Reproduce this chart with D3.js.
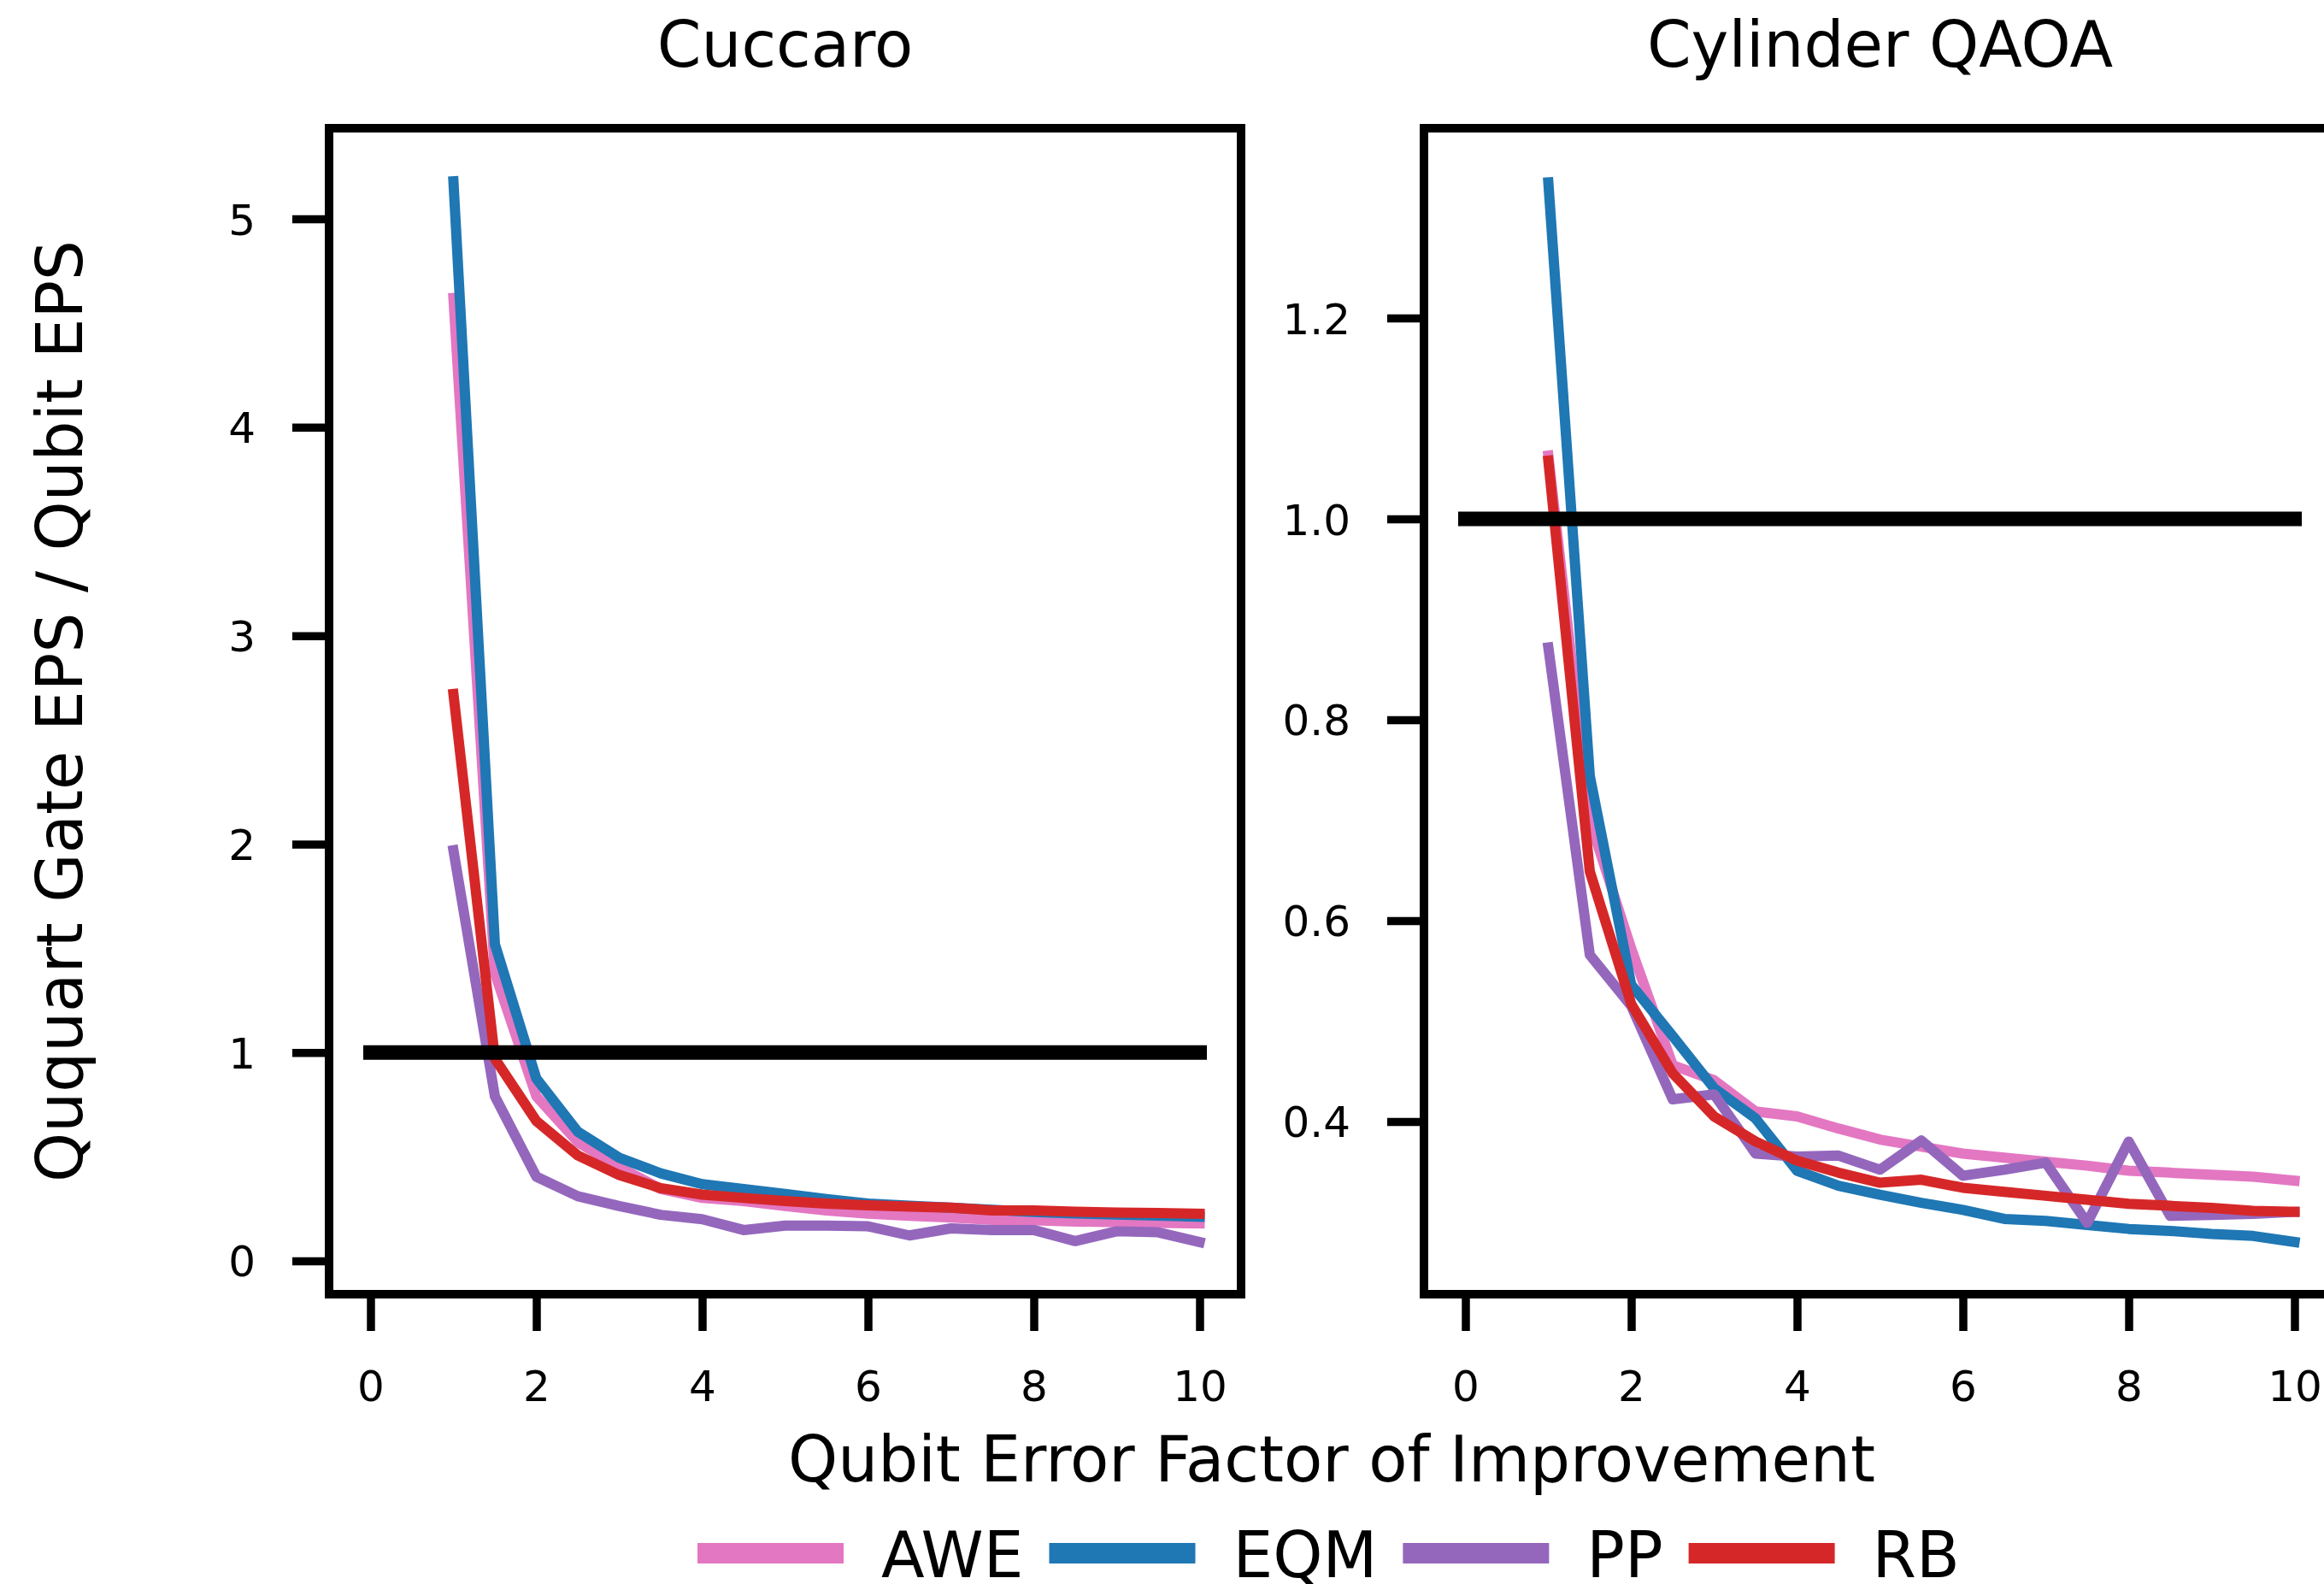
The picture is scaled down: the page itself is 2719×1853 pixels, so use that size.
<!DOCTYPE html>
<html>
<head>
<meta charset="utf-8">
<script src="https://cdn.jsdelivr.net/npm/d3@7"></script>
<style>
  html, body { margin: 0; padding: 0; background: #ffffff; }
  svg { display: block; }
  text { font-family: "DejaVu Sans", sans-serif; fill: #000; }
</style>
</head>
<body>
<script>
// Qubit error improvement factor (shared x for both panels)
const xFactors = [1, 1.5, 2, 2.5, 3, 3.5, 4, 4.5, 5, 5.5, 6, 6.5, 7, 7.5, 8, 8.5, 9, 9.5, 10];

// Methods
const methods = ["AWE", "EQM", "PP", "RB"];
const methodColors = ["#e377c2", "#1f77b4", "#9467bd", "#d62728"];

// Cuccaro: ququart gate EPS / qubit EPS
const cuccaroAWE = [4.62, 1.38, 0.79, 0.57, 0.45, 0.345, 0.302, 0.287, 0.263, 0.242, 0.227, 0.216, 0.208, 0.197, 0.195, 0.189, 0.186, 0.183, 0.18];
const cuccaroEQM = [5.18, 1.52, 0.875, 0.62, 0.495, 0.42, 0.368, 0.345, 0.321, 0.297, 0.275, 0.265, 0.255, 0.245, 0.235, 0.228, 0.222, 0.217, 0.212];
const cuccaroPP  = [1.97, 0.79, 0.404, 0.31, 0.263, 0.221, 0.20, 0.148, 0.169, 0.169, 0.166, 0.122, 0.156, 0.148, 0.148, 0.095, 0.142, 0.137, 0.09];
const cuccaroRB  = [2.72, 0.97, 0.671, 0.506, 0.412, 0.349, 0.318, 0.302, 0.287, 0.275, 0.267, 0.26, 0.255, 0.242, 0.242, 0.236, 0.232, 0.23, 0.226];

// Cylinder QAOA: ququart gate EPS / qubit EPS
const qaoaAWE = [1.063, 0.70, 0.572, 0.456, 0.441, 0.410, 0.405, 0.393, 0.382, 0.375, 0.368, 0.364, 0.360, 0.356, 0.351, 0.349, 0.347, 0.345, 0.341];
const qaoaEQM = [1.335, 0.744, 0.536, 0.485, 0.433, 0.403, 0.351, 0.336, 0.327, 0.319, 0.312, 0.303, 0.301, 0.297, 0.293, 0.291, 0.288, 0.286, 0.280];
const qaoaPP  = [0.872, 0.566, 0.515, 0.422, 0.427, 0.368, 0.365, 0.366, 0.352, 0.381, 0.346, 0.352, 0.359, 0.299, 0.380, 0.306, 0.307, 0.308, 0.310];
const qaoaRB  = [1.058, 0.649, 0.517, 0.448, 0.405, 0.380, 0.361, 0.349, 0.339, 0.342, 0.334, 0.330, 0.326, 0.322, 0.318, 0.316, 0.314, 0.311, 0.310];

// Tick values
const xTicks = [0, 2, 4, 6, 8, 10];
const cuccaroYTicks = [0, 1, 2, 3, 4, 5];
const qaoaYTicks = [0.4, 0.6, 0.8, 1.0, 1.2];

// Break-even reference level
const breakEven = 1;
const breakEvenRange = [0, 10];

const panels = [
  { title: "Cuccaro", series: [cuccaroAWE, cuccaroEQM, cuccaroPP, cuccaroRB],
    yDomain: [-0.16, 5.435], yTicks: cuccaroYTicks, yFmt: d3.format("d"),
    left: 385, right: 1452 },
  { title: "Cylinder QAOA", series: [qaoaAWE, qaoaEQM, qaoaPP, qaoaRB],
    yDomain: [0.228, 1.389], yTicks: qaoaYTicks, yFmt: d3.format(".1f"),
    left: 1666, right: 2733 }
];

const W = 2719, H = 1853;
const plotTop = 150, plotBottom = 1514;
const tickLen = 43, tickW = 9.5, spineW = 10, lineW = 12;
const tickFont = 50, labelFont = 74;

const svg = d3.select("body").append("svg")
  .attr("width", W).attr("height", H)
  .attr("viewBox", `0 0 ${W} ${H}`);
svg.append("rect").attr("width", W).attr("height", H).attr("fill", "#fff");
const defs = svg.append("defs");

panels.forEach((p, pi) => {
  const x = d3.scaleLinear().domain([-0.5, 10.5]).range([p.left, p.right]);
  const y = d3.scaleLinear().domain(p.yDomain).range([plotBottom, plotTop]);
  const g = svg.append("g");

  const clipId = "clip" + pi;
  defs.append("clipPath").attr("id", clipId)
    .append("rect").attr("x", p.left).attr("y", plotTop)
    .attr("width", p.right - p.left).attr("height", plotBottom - plotTop);

  // Data lines
  const line = d3.line().x((d, i) => x(xFactors[i])).y(d => y(d));
  const lines = g.append("g").attr("clip-path", `url(#${clipId})`);
  p.series.forEach((vals, si) => {
    lines.append("path")
      .datum(vals)
      .attr("d", line)
      .attr("fill", "none")
      .attr("stroke", methodColors[si])
      .attr("stroke-width", lineW)
      .attr("stroke-linecap", "square")
      .attr("stroke-linejoin", "round");
  });

  // Break-even line
  lines.append("line")
    .attr("x1", x(breakEvenRange[0])).attr("x2", x(breakEvenRange[1]))
    .attr("y1", y(breakEven)).attr("y2", y(breakEven))
    .attr("stroke", "#000").attr("stroke-width", 17)
    .attr("stroke-linecap", "square");

  // Axes
  const yAxis = d3.axisLeft(y).tickValues(p.yTicks).tickFormat(p.yFmt)
    .tickSize(tickLen).tickPadding(43);
  const yg = g.append("g").attr("transform", `translate(${p.left},0)`).call(yAxis);
  const xAxis = d3.axisBottom(x).tickValues(xTicks).tickFormat(d3.format("d"))
    .tickSize(tickLen).tickPadding(46);
  const xg = g.append("g").attr("transform", `translate(0,${plotBottom})`).call(xAxis);

  [yg, xg].forEach(ax => {
    ax.select(".domain").remove();
    ax.selectAll(".tick line").attr("stroke", "#000").attr("stroke-width", tickW);
    ax.selectAll(".tick text")
      .style("font-family", "DejaVu Sans, sans-serif")
      .style("font-size", tickFont + "px")
      .attr("fill", "#000");
  });
  yg.selectAll(".tick text").attr("dy", "0.36em");
  xg.selectAll(".tick text").attr("dy", "0.71em");

  // Frame
  g.append("rect")
    .attr("x", p.left).attr("y", plotTop)
    .attr("width", p.right - p.left).attr("height", plotBottom - plotTop)
    .attr("fill", "none").attr("stroke", "#000").attr("stroke-width", spineW);

  // Title
  g.append("text")
    .attr("x", (p.left + p.right) / 2).attr("y", 78)
    .attr("text-anchor", "middle")
    .style("font-size", labelFont + "px")
    .text(p.title);
});

// Shared axis labels
svg.append("text")
  .attr("transform", "translate(96,832) rotate(-90)")
  .attr("text-anchor", "middle")
  .style("font-size", labelFont + "px")
  .text("Ququart Gate EPS / Qubit EPS");

svg.append("text")
  .attr("x", 1558).attr("y", 1733)
  .attr("text-anchor", "middle")
  .style("font-size", labelFont + "px")
  .text("Qubit Error Factor of Improvement");

// Legend
const legend = svg.append("g");
const handleLen = 171, handleGap = 44, colGap = 30;
let cx = 816;
const legY = 1817;
methods.forEach((m, i) => {
  legend.append("line")
    .attr("x1", cx).attr("x2", cx + handleLen)
    .attr("y1", legY).attr("y2", legY)
    .attr("stroke", methodColors[i]).attr("stroke-width", 24);
  const t = legend.append("text")
    .attr("x", cx + handleLen + handleGap).attr("y", 1845)
    .style("font-size", labelFont + "px")
    .text(m);
  cx += handleLen + handleGap + t.node().getComputedTextLength() + colGap;
});
</script>
</body>
</html>
